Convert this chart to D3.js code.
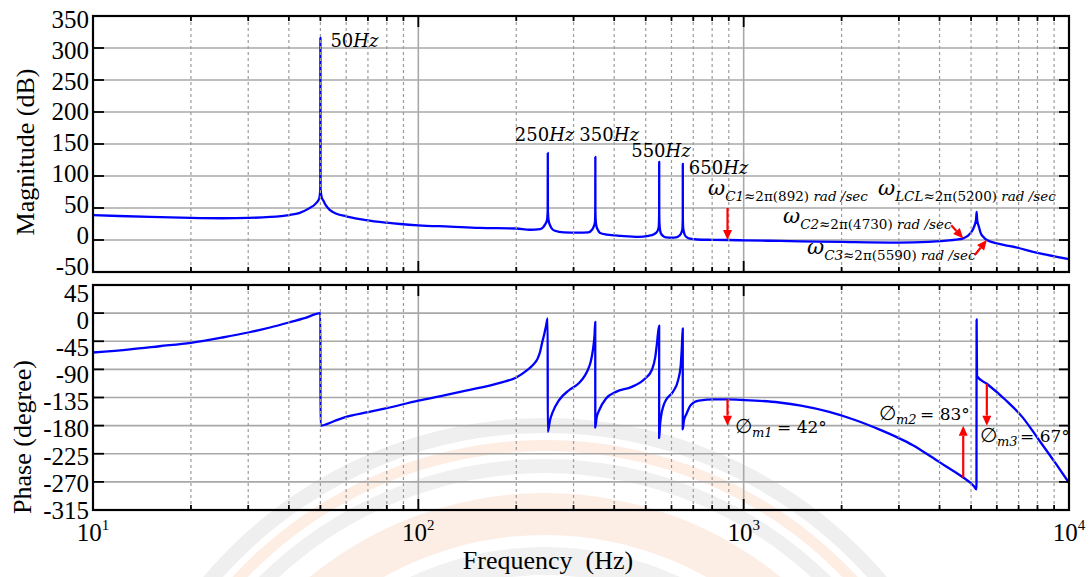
<!DOCTYPE html>
<html>
<head>
<meta charset="utf-8">
<script src="https://cdn.jsdelivr.net/npm/d3@7"></script>
<style>
  html, body { margin: 0; padding: 0; background: #fff; }
  svg { display: block; }
  .serif { font-family: "Liberation Serif", "Times New Roman", Times, serif; }
  .math { font-family: "DejaVu Serif", serif; }
</style>
</head>
<body>
<svg id="chart" width="1090" height="577"></svg>
<script>
// ---- Bode response of the grid-connected LCL loop -------------------------
// Magnitude (dB) versus frequency (Hz)
const magFreq = [10, 12, 15, 20, 25, 30, 35, 40, 43, 46, 48.6, 49.6, 49.95, 50, 50.05, 50.5, 51, 52, 53.4, 56, 60, 69, 80, 88,
  100, 125, 154, 200, 220, 237, 242, 245, 248.5, 249.8, 250, 250.2, 251.5, 254, 258, 263, 280, 310, 333, 342, 346, 349, 349.8,
  350, 350.2, 351, 353, 357, 362, 380, 420, 475, 510, 530, 542, 548, 549.8, 550, 550.2, 552, 556, 566, 577, 600, 620, 635,
  643, 648, 649.8, 650, 650.2, 652, 659, 670, 684, 720, 800, 892, 1000, 1290, 1500, 2000, 3000, 3700, 4200, 4500, 4730,
  4990, 5110, 5180, 5200, 5220, 5290, 5350, 5450, 5590, 6100, 7000, 7700, 8500, 10000];
const magDb = [39, 37.5, 36, 34.5, 34, 34.5, 36, 39, 42, 49, 58, 65, 80, 316, 80, 66, 62, 54, 47, 41, 37, 31, 27, 25,
  23, 21, 19, 18, 16, 17, 20, 24, 31, 45, 136, 45, 30, 23, 17, 14.5, 12, 11.5, 12, 16, 21, 28, 45,
  130, 45, 30, 21, 15, 11, 8.5, 6.5, 5, 6.5, 9, 13, 20, 40, 122, 40, 20, 11, 6, 4, 3.5, 4, 7,
  11, 17, 35, 119, 35, 18, 8, 4, 2, 0.8, 0.3, 0, -0.5, -1.5, -2, -3, -4, -3, -1, 0.5, 2.6,
  11, 21, 32, 44, 32, 20, 11, 5, 0, -6, -12.5, -18, -23, -30];

// Phase (degree) versus frequency (Hz)
const phaseFreq = [10, 13, 16, 20, 25, 30, 35, 40, 45, 50, 50.02, 55, 60, 70, 80, 100, 120, 140, 178, 200, 215, 225, 233,
  237, 240, 244, 247, 249.8, 249.9, 254, 259, 271, 291, 312.5, 325, 331.8, 339, 344, 348, 349.8, 349.9, 353, 360, 377.6, 405, 453,
  498, 522, 535, 541, 549.8, 549.9, 553, 557, 567, 577, 606, 629, 640, 645, 649.8, 649.9, 655, 668, 688, 728, 816, 892,
  1000, 1286, 1500, 1832, 2200, 2608, 3000, 3301, 3700, 4181, 4730, 5105, 5195, 5200, 5215, 5590, 6386, 7180, 8086, 9100, 10000];
const phaseDeg = [-63, -58, -53, -47.5, -39, -31, -23, -15, -7.5, 0, -180, -173, -166, -158.5, -152, -140, -131.5, -124, -111.5, -103, -92, -83, -72,
  -61, -48, -33, -20, -8.5, -190, -171, -158, -139, -123, -111.5, -100, -91, -77, -59, -35, -14, -183, -168, -155, -136.5, -126, -118,
  -104.5, -91, -70, -50, -20, -200, -180, -166, -148, -139, -126, -107, -85, -59, -24.5, -186, -172, -160.5, -147, -140, -138, -138,
  -139, -143, -148, -158, -171, -186, -200, -211, -227, -245, -263, -277, -282, -10, -101, -113, -139, -166, -203, -240.5, -271.5];

// Axis ticks
const magTicks = [-50, 0, 50, 100, 150, 200, 250, 300, 350];
const phaseTicks = [-315, -270, -225, -180, -135, -90, -45, 0, 45];
const decadeExp = [1, 2, 3, 4];
const minorMult = [2, 3, 4, 5, 6, 7, 8, 9];

// Annotated frequencies
const harmonicHz = [50, 250, 350, 550, 650];
const harmonicLabelDx = [10, -33, -16, -28, 6];
const harmonicLabelY = [47, 141, 141, 157, 174];
const crossHz = [892, 4730, 5590];            // ωC1, ωC2, ωC3
const resonanceHz = 5200;                     // ωLCL
const marginHz = [892, 4730, 5590];           // phase margins taken at the crossings
const marginDeg = [42, 83, 67];

// ---------------------------------------------------------------------------
const svg = d3.select("#chart");

const x = d3.scaleLog().domain([10, 1e4]).range([93, 1069]);
const yMag = d3.scaleLinear().domain([-50, 350]).range([272, 16]);
const yPh = d3.scaleLinear().domain([-315, 45]).range([510, 285]);

const majorHz = decadeExp.map(e => Math.pow(10, e));
const minorHz = [];
decadeExp.slice(0, 3).forEach(e => minorMult.forEach(m => minorHz.push(m * Math.pow(10, e))));

// faint emblem behind the plots
const mark = svg.append("g").attr("opacity", 0.85);
const cx = 545, cy = 865;
const ring = (r0, r1, fill) => mark.append("path")
  .attr("d", d3.arc().innerRadius(r0).outerRadius(r1).startAngle(0).endAngle(2 * Math.PI)())
  .attr("transform", `translate(${cx},${cy})`).attr("fill", fill);
ring(432, 447, "#ededed");
ring(414, 425, "#fdeadf");
ring(392, 406, "#eeeeee");
ring(330, 372, "#fcebe1");
ring(290, 318, "#efefef");
ring(220, 262, "#fdede4");

const magPts = magFreq.map((f, i) => ({ f, v: magDb[i] }));
const phPts = phaseFreq.map((f, i) => ({ f, v: phaseDeg[i] }));

const panels = [
  { id: "mag", y: yMag, ticks: magTicks, pts: magPts, inset: [6, 3] },
  { id: "ph", y: yPh, ticks: phaseTicks, pts: phPts, inset: [0, 8] }
];

const gridCol = "#a8a8a8";
const x0 = x.range()[0], x1 = x.range()[1];

panels.forEach(p => {
  const [yb, yt] = p.y.range();
  const g = svg.append("g");

  g.append("clipPath").attr("id", "clip-" + p.id)
    .append("rect").attr("x", x0).attr("y", yt).attr("width", x1 - x0).attr("height", yb - yt);

  // solid grid: value lines and decade lines
  g.append("g").selectAll("line").data(p.ticks).join("line")
    .attr("x1", x0).attr("x2", x1).attr("y1", d => p.y(d)).attr("y2", d => p.y(d))
    .attr("stroke", gridCol).attr("stroke-width", 1.6);
  g.append("g").selectAll("line").data(majorHz).join("line")
    .attr("x1", d => x(d)).attr("x2", d => x(d)).attr("y1", yt).attr("y2", yb)
    .attr("stroke", gridCol).attr("stroke-width", 1.6);

  // response curve
  const line = d3.line().x(d => x(d.f)).y(d => p.y(d.v)).curve(d3.curveMonotoneX);
  g.append("path").datum(p.pts).attr("d", line)
    .attr("clip-path", `url(#clip-${p.id})`)
    .attr("fill", "none").attr("stroke", "#0000ff").attr("stroke-width", 2.3)
    .attr("stroke-linejoin", "round");

  // dashed minor grid lies over the trace
  g.append("g").selectAll("line").data(minorHz).join("line")
    .attr("x1", d => x(d)).attr("x2", d => x(d)).attr("y1", yt).attr("y2", yb)
    .attr("stroke", "#9c9c9c").attr("stroke-width", 1.2).attr("stroke-dasharray", "3,3");

  // frame
  g.append("rect").attr("x", x0).attr("y", yt).attr("width", x1 - x0).attr("height", yb - yt)
    .attr("fill", "none").attr("stroke", "#000").attr("stroke-width", 2.2);

  // inward ticks on all sides
  const tk = g.append("g").attr("stroke", "#000").attr("stroke-width", 1.8);
  majorHz.concat(minorHz).forEach(f => {
    const len = majorHz.includes(f) ? 11 : 5;
    tk.append("line").attr("x1", x(f)).attr("x2", x(f)).attr("y1", yb).attr("y2", yb - len);
    tk.append("line").attr("x1", x(f)).attr("x2", x(f)).attr("y1", yt).attr("y2", yt + len);
  });
  p.ticks.forEach(v => {
    tk.append("line").attr("x1", x0).attr("x2", x0 + 11).attr("y1", p.y(v)).attr("y2", p.y(v));
    tk.append("line").attr("x1", x1).attr("x2", x1 - 10).attr("y1", p.y(v)).attr("y2", p.y(v));
  });

  // value labels, pulled in slightly so the end labels clear the neighbouring panel
  const yl = d3.scaleLinear().domain(p.y.domain()).range([yb - p.inset[0], yt + p.inset[1]]);
  g.append("g").selectAll("text").data(p.ticks).join("text")
    .attr("class", "serif").attr("x", 89).attr("y", d => yl(d))
    .attr("dy", "0.35em").attr("text-anchor", "end")
    .attr("font-size", 25).attr("fill", "#000")
    .text(d => d);
});

// frequency labels under the phase panel
const xl = svg.append("g").attr("class", "serif").attr("fill", "#000");
decadeExp.forEach(e => {
  const t = xl.append("text").attr("x", x(Math.pow(10, e))).attr("y", 541)
    .attr("text-anchor", "middle").attr("font-size", 25);
  t.append("tspan").text("10");
  t.append("tspan").attr("font-size", 15).attr("dy", -11).text(e);
});
svg.append("text").attr("class", "serif").attr("x", 548).attr("y", 569)
  .attr("text-anchor", "middle").attr("font-size", 26).style("white-space", "pre")
  .text("Frequency  (Hz)");

// panel titles
svg.append("text").attr("class", "serif").attr("font-size", 26)
  .attr("transform", "translate(25,152) rotate(-90)")
  .attr("text-anchor", "middle").attr("dominant-baseline", "central").text("Magnitude (dB)");
svg.append("text").attr("class", "serif").attr("font-size", 26)
  .attr("transform", "translate(22,437) rotate(-90)")
  .attr("text-anchor", "middle").attr("dominant-baseline", "central").text("Phase (degree)");

// harmonic resonance labels
harmonicHz.forEach((f, i) => {
  const t = svg.append("text").attr("class", "math").attr("font-size", 18)
    .attr("x", x(f) + harmonicLabelDx[i]).attr("y", harmonicLabelY[i]);
  t.append("tspan").text(f);
  t.append("tspan").attr("font-style", "italic").text("Hz");
});

// helpers
const lookup = (fs, vs, f) => vs[fs.indexOf(f)];
const red = "#ff0000";
function arrow(xa, ya, xb, yb) {
  const ang = Math.atan2(yb - ya, xb - xa);
  const L = 10, Wd = 4.5;
  const bx = xb - L * Math.cos(ang), by = yb - L * Math.sin(ang);
  svg.append("line").attr("x1", xa).attr("y1", ya).attr("x2", bx).attr("y2", by)
    .attr("stroke", red).attr("stroke-width", 2.2);
  const px = -Math.sin(ang) * Wd, py = Math.cos(ang) * Wd;
  svg.append("path")
    .attr("d", `M${xb},${yb}L${bx + px},${by + py}L${bx - px},${by - py}Z`)
    .attr("fill", red);
}

// ω labels: subscript name, frequency, start x, baseline of ω
function omegaLabel(sub, hz, xs, yb) {
  const t = svg.append("text").attr("class", "math").attr("x", xs).attr("y", yb);
  t.append("tspan").attr("font-size", 21).attr("font-style", "italic").text("ω");
  t.append("tspan").attr("font-size", 13.5).attr("dy", 5.5).attr("font-style", "italic").text(sub);
  t.append("tspan").attr("font-size", 13.5).text(`≈2π(${hz})`);
  t.append("tspan").attr("font-size", 13.5).attr("font-style", "italic").text(" rad /sec");
}
omegaLabel("C1", crossHz[0], 708, 195);
omegaLabel("LCL", resonanceHz, 878, 195);
omegaLabel("C2", crossHz[1], 783, 223);
omegaLabel("C3", crossHz[2], 807, 254);

// crossover arrows on the magnitude trace
const crossTail = [[0, -32], [-12, -13], [-12, 15]];
crossHz.forEach((f, i) => {
  const xb = x(f), yb = yMag(lookup(magFreq, magDb, f));
  arrow(xb + crossTail[i][0], yb + crossTail[i][1], xb, yb);
});

// phase margin arrows: from the trace to the −180° line
marginHz.forEach(f => {
  const ph = lookup(phaseFreq, phaseDeg, f);
  arrow(x(f), yPh(ph), x(f), yPh(-180));
});

// phase margin labels
const marginPos = [[735, 433], [879, 420], [980, 442]];
const marginEqX = [777, 920, 1020];
marginDeg.forEach((d, i) => {
  const [xs, yb] = marginPos[i];
  const t = svg.append("text").attr("class", "math").attr("x", xs).attr("y", yb);
  t.append("tspan").attr("font-size", 20).text("∅");
  t.append("tspan").attr("font-size", 13).attr("font-style", "italic").attr("dy", 4).text("m" + (i + 1));
  t.append("tspan").attr("font-size", 17).attr("x", marginEqX[i]).attr("dy", -4).text(`= ${d}°`);
});
</script>
</body>
</html>
